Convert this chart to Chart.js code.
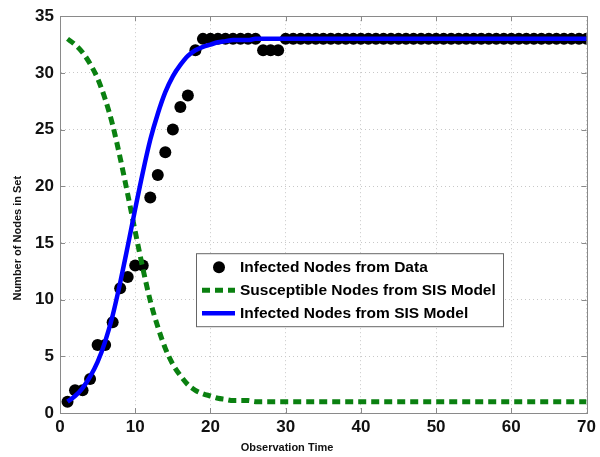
<!DOCTYPE html>
<html>
<head>
<meta charset="utf-8">
<script src="https://cdn.jsdelivr.net/npm/chart.js@4"></script>
<style>
html,body{margin:0;padding:0;background:#fff;}
#c{display:block;}
</style>
</head>
<body>
<canvas id="c" width="600" height="457"></canvas>
<script>
// ---- data ----
const dataTimes = [1,2,3,4,5,6,7,8,9,10,11,12,13,14,15,16,17,18,19,20,21,22,23,24,25,26,27,28,29,30,31,32,33,34,35,36,37,38,39,40,41,42,43,44,45,46,47,48,49,50,51,52,53,54,55,56,57,58,59,60,61,62,63,64,65,66,67,68,69,70];
const infectedData = [1,2,2,3,6,6,8,11,12,13,13,19,21,23,25,27,28,32,33,33,33,33,33,33,33,33,32,32,32,33,33,33,33,33,33,33,33,33,33,33,33,33,33,33,33,33,33,33,33,33,33,33,33,33,33,33,33,33,33,33,33,33,33,33,33,33,33,33,33,33];
const modelTimes = dataTimes;
const infectedModel = [1.0,1.5,2.2,3.2,4.5,6.3,8.6,11.5,14.7,18.0,21.2,24.1,26.4,28.3,29.7,30.7,31.5,32.0,32.3,32.5,32.7,32.8,32.9,32.9,32.9,33.0,33,33,33,33,33,33,33,33,33,33,33,33,33,33,33,33,33,33,33,33,33,33,33,33,33,33,33,33,33,33,33,33,33,33,33,33,33,33,33,33,33,33,33,33];
const susceptibleModel = [33.0,32.5,31.8,30.8,29.5,27.7,25.4,22.5,19.3,16.0,12.8,9.9,7.6,5.7,4.3,3.3,2.5,2.0,1.7,1.5,1.3,1.2,1.1,1.1,1.1,1.0,1,1,1,1,1,1,1,1,1,1,1,1,1,1,1,1,1,1,1,1,1,1,1,1,1,1,1,1,1,1,1,1,1,1,1,1,1,1,1,1,1,1,1,1];
const seriesLabels = ['Infected Nodes from Data','Susceptible Nodes from SIS Model','Infected Nodes from SIS Model'];
const xTicks = [0,10,20,30,40,50,60,70];
const yTicks = [0,5,10,15,20,25,30,35];
const xTitle = 'Observation Time';
const yTitle = 'Number of Nodes in Set';

const FONT = '"Liberation Sans", Arial, sans-serif';
const zip = (xs, ys) => xs.map((x, i) => ({x, y: ys[i]}));

const framePlugin = {
  id: 'frame',
  afterDraw(chart) {
    const {ctx, chartArea: a, scales} = chart;
    ctx.save();
    ctx.strokeStyle = '#8a8a8a';
    ctx.lineWidth = 1;
    ctx.strokeRect(Math.round(a.left) + 0.5, Math.round(a.top) + 0.5, Math.round(a.right - a.left), Math.round(a.bottom - a.top));
    // inward tick marks
    const L = 5;
    ctx.beginPath();
    xTicks.forEach(v => {
      const px = Math.round(scales.x.getPixelForValue(v)) + 0.5;
      ctx.moveTo(px, a.bottom); ctx.lineTo(px, a.bottom - L);
      ctx.moveTo(px, a.top); ctx.lineTo(px, a.top + L);
    });
    yTicks.forEach(v => {
      const py = Math.round(scales.y.getPixelForValue(v)) + 0.5;
      ctx.moveTo(a.left, py); ctx.lineTo(a.left + L, py);
      ctx.moveTo(a.right, py); ctx.lineTo(a.right - L, py);
    });
    ctx.stroke();
    // axis titles
    ctx.fillStyle = '#111';
    ctx.font = 'bold 11px ' + FONT;
    ctx.textAlign = 'center';
    ctx.textBaseline = 'middle';
    ctx.fillText(xTitle, a.left + 227, a.bottom + 35);
    ctx.translate(a.left - 42, a.top + 222);
    ctx.rotate(-Math.PI / 2);
    ctx.fillText(yTitle, 0, 0);
    ctx.restore();

    // legend
    ctx.save();
    const bx = a.left + 136, by = a.top + 237, bw = 307, bh = 73;
    ctx.fillStyle = '#fff';
    ctx.fillRect(bx, by, bw, bh);
    ctx.strokeStyle = '#666';
    ctx.lineWidth = 1;
    ctx.strokeRect(bx + 0.5, by + 0.5, bw, bh);
    const rows = [by + 14, by + 37, by + 60];
    const ds = chart.data.datasets;
    ctx.font = 'bold 15.5px ' + FONT;
    ctx.textAlign = 'left';
    ctx.textBaseline = 'middle';
    ds.forEach((d, i) => {
      const y = rows[i];
      if (d.showLine === false) {
        ctx.fillStyle = d.pointBackgroundColor;
        ctx.beginPath(); ctx.arc(bx + 23, y, 6, 0, Math.PI * 2); ctx.fill();
      } else {
        ctx.strokeStyle = d.borderColor;
        ctx.lineWidth = d.borderWidth;
        ctx.setLineDash(d.borderDash || []);
        ctx.beginPath(); ctx.moveTo(bx + 6, y); ctx.lineTo(bx + 39, y); ctx.stroke();
        ctx.setLineDash([]);
      }
      ctx.fillStyle = '#000';
      ctx.fillText(d.label, bx + 44, y + 1);
    });
    ctx.restore();
  }
};

new Chart(document.getElementById('c'), {
  type: 'scatter',
  data: {
    datasets: [
      {
        label: seriesLabels[0],
        data: zip(dataTimes, infectedData),
        showLine: false,
        pointRadius: 6,
        pointBackgroundColor: '#000',
        pointBorderColor: '#000',
        pointBorderWidth: 0,
        order: 3
      },
      {
        label: seriesLabels[1],
        data: zip(modelTimes, susceptibleModel),
        showLine: true,
        borderColor: '#0a8010',
        borderWidth: 5,
        borderDash: [8, 5],
        pointRadius: 0,
        cubicInterpolationMode: 'monotone',
        order: 2
      },
      {
        label: seriesLabels[2],
        data: zip(modelTimes, infectedModel),
        showLine: true,
        borderColor: '#0000ff',
        borderWidth: 4.5,
        pointRadius: 0,
        cubicInterpolationMode: 'monotone',
        order: 1
      }
    ]
  },
  options: {
    responsive: false,
    animation: false,
    devicePixelRatio: 1,
    layout: {padding: {left: 0, top: 14, right: 13, bottom: 0}},
    plugins: {legend: {display: false}, tooltip: {enabled: false}},
    scales: {
      x: {
        type: 'linear',
        min: 0, max: 70,
        afterBuildTicks(s) { s.ticks = xTicks.map(v => ({value: v})); },
        afterFit(s) { s.height = 44; },
        grid: {color: '#c8c8c8', drawTicks: false},
        border: {display: true, color: '#8a8a8a', dash: [1, 3]},
        ticks: {color: '#111', font: {family: FONT, size: 17, weight: 'bold'}, padding: 4, maxRotation: 0}
      },
      y: {
        type: 'linear',
        min: 0, max: 35,
        afterBuildTicks(s) { s.ticks = yTicks.map(v => ({value: v})); },
        afterFit(s) { s.width = 60; },
        grid: {color: '#c8c8c8', drawTicks: false},
        border: {display: true, color: '#8a8a8a', dash: [1, 3]},
        ticks: {color: '#111', font: {family: FONT, size: 17, weight: 'bold'}, padding: 6}
      }
    }
  },
  plugins: [framePlugin]
});
</script>
</body>
</html>
